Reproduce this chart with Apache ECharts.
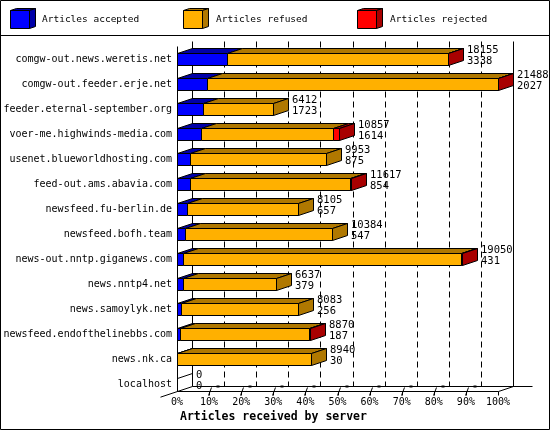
<!DOCTYPE html>
<html>
<head>
<meta charset="utf-8">
<script src="https://cdn.jsdelivr.net/npm/echarts@6/dist/echarts.min.js"></script>
<style>
  html, body { margin: 0; padding: 0; background: #fff; }
  #chart { width: 550px; height: 430px; }
</style>
</head>
<body>
<div id="chart"></div>
<script>
const categories = [
  'comgw-out.news.weretis.net',
  'comgw-out.feeder.erje.net',
  'feeder.eternal-september.org',
  'voer-me.highwinds-media.com',
  'usenet.blueworldhosting.com',
  'feed-out.ams.abavia.com',
  'newsfeed.fu-berlin.de',
  'newsfeed.bofh.team',
  'news-out.nntp.giganews.com',
  'news.nntp4.net',
  'news.samoylyk.net',
  'newsfeed.endofthelinebbs.com',
  'news.nk.ca',
  'localhost'
];
const totals   = [18155, 21488, 6412, 10857, 9953, 11617, 8105, 10384, 19050, 6637, 8083, 8870, 8940, 0];
const accepted = [3338, 2027, 1723, 1614, 875, 854, 657, 547, 431, 379, 256, 187, 30, 0];
const refused  = [14797, 19441, 4689, 8843, 9078, 10738, 7448, 9837, 18594, 6258, 7827, 8658, 8910, 0];
const rejected = [20, 20, 0, 400, 0, 25, 0, 0, 25, 0, 0, 25, 0, 0];
const percentTicks = [0, 10, 20, 30, 40, 50, 60, 70, 80, 90, 100];

const seriesNames = ['Articles accepted', 'Articles refused', 'Articles rejected'];
const FRONT = ['#0000ff', '#ffb000', '#ff0000'];
const SHADE = ['#0000a8', '#b07800', '#a80000'];
const FONT = '"DejaVu Sans Mono", monospace';
const DX = 15, DY = 5, HALF = 6;

const maxTotal = Math.max(...totals);
const pct = v => v / maxTotal * 100;
const px = v => Math.round(v) + 0.5;

// one item per visible bar segment: [startPct, endPct, row, segment, isLast]
const segmentData = [];
categories.forEach((c, r) => {
  const parts = [accepted[r], refused[r], rejected[r]];
  let lastIdx = -1;
  parts.forEach((p, i) => { if (p > 0) lastIdx = i; });
  if (lastIdx < 0) { segmentData.push([0, 0, r, -1, 1]); return; }
  let run = 0;
  parts.forEach((p, i) => {
    if (p <= 0) return;
    segmentData.push([pct(run), pct(run + p), r, i, i === lastIdx ? 1 : 0]);
    run += p;
  });
});

const labelData = categories.map((c, r) => [pct(totals[r]), r]);

function renderBar(params, api) {
  const a = api.coord([api.value(0), api.value(2)]);
  const b = api.coord([api.value(1), api.value(2)]);
  const seg = api.value(3);
  const x0 = px(a[0]), x1 = px(b[0]), c = Math.round(a[1]);
  const top = c - HALF + 0.5, bot = c + HALF + 0.5;
  const stroke = { stroke: '#000', lineWidth: 1 };
  if (seg < 0) {
    return {
      type: 'polyline',
      shape: { points: [[x0, bot], [x0, top], [x0 + DX, top - DY], [x0 + DX, bot - DY]] },
      style: { fill: null, stroke: '#000', lineWidth: 1 }
    };
  }
  const children = [
    { type: 'polygon', shape: { points: [[x0, top], [x0 + DX, top - DY], [x1 + DX, top - DY], [x1, top]] },
      style: Object.assign({ fill: SHADE[seg] }, stroke) },
    { type: 'rect', shape: { x: x0, y: top, width: x1 - x0, height: bot - top },
      style: Object.assign({ fill: FRONT[seg] }, stroke) }
  ];
  if (api.value(4) === 1) {
    children.push({ type: 'polygon',
      shape: { points: [[x1, top], [x1 + DX, top - DY], [x1 + DX, bot - DY], [x1, bot]] },
      style: Object.assign({ fill: SHADE[seg] }, stroke) });
  }
  return { type: 'group', children };
}

function renderLabels(params, api) {
  const r = api.value(1);
  const p = api.coord([api.value(0), r]);
  const x = Math.round(p[0]) + DX + 4;
  const font = '10.5px ' + FONT;
  return {
    type: 'group',
    children: [
      { type: 'text', style: { text: String(totals[r]), x, y: p[1] - 9, font, fill: '#000', textVerticalAlign: 'middle' } },
      { type: 'text', style: { text: String(accepted[r]), x, y: p[1] + 2, font, fill: '#000', textVerticalAlign: 'middle' } }
    ]
  };
}

function renderFrame(params, api) {
  const last = categories.length - 1;
  const c0 = api.coord([0, 0])[1];
  const cN = api.coord([0, last])[1];
  const xs = percentTicks.map(t => px(api.coord([t, 0])[0]));
  const frontTop = Math.round(c0 - 13) + 0.5;
  const floor = Math.round(cN + 7) + 0.5;
  const backTop = frontTop - DY, backFloor = floor - DY;
  const left = xs[0], right = xs[xs.length - 1];
  const ln = (x1, y1, x2, y2, dash) => ({
    type: 'line', shape: { x1, y1, x2, y2 },
    style: { stroke: '#000', lineWidth: 1, lineDash: dash || null }
  });
  const children = [];
  xs.slice(1, -1).forEach(x => {
    children.push(ln(x + DX, backTop, x + DX, backFloor, [6, 4]));
    children.push(ln(x - 1, floor + 4, x + 2, backFloor + 1));
    children.push({ type: 'rect', shape: { x: x + 7, y: backFloor - 1, width: 3, height: 2 }, style: { fill: '#000' } });
  });
  xs.slice(1).forEach(x => children.push(ln(x, floor, x, floor + 4)));
  children.push(
    ln(left + DX, backTop, left + DX, backFloor),
    ln(right + DX, backTop, right + DX, backFloor),
    ln(left, frontTop, left, floor),
    ln(left, floor, right, floor),
    ln(left + DX, backFloor, right + DX + 19, backFloor),
    ln(right, floor, right + DX, backFloor),
    ln(left - 17, floor + 17 * DY / DX, left + DX, backFloor)
  );
  return { type: 'group', children };
}

function legendCube(x, color, shade, label, textX) {
  const y = 10.5, w = 19, h = 18, d = 6, e = 2;
  const st = f => ({ fill: f, stroke: '#000', lineWidth: 1 });
  return [
    { type: 'polygon', shape: { points: [[x, y], [x + d, y - e], [x + w + d, y - e], [x + w, y]] }, style: st(shade) },
    { type: 'polygon', shape: { points: [[x + w, y], [x + w + d, y - e], [x + w + d, y + h - e], [x + w, y + h]] }, style: st(shade) },
    { type: 'rect', shape: { x, y, width: w, height: h }, style: st(color) },
    { type: 'text', style: { text: label, x: textX, y: 20, font: '9.5px ' + FONT, fill: '#000', textVerticalAlign: 'middle' } }
  ];
}

const chart = echarts.init(document.getElementById('chart'));

chart.setOption({
  animation: false,
  backgroundColor: '#fff',
  grid: { left: 177, right: 52, top: 46.5, bottom: 33.5 },
  xAxis: {
    type: 'value', min: 0, max: 100, interval: 10,
    axisLine: { show: false }, axisTick: { show: false }, splitLine: { show: false },
    axisLabel: { formatter: '{value}%', fontFamily: FONT, fontSize: 10, color: '#000', margin: 1 }
  },
  yAxis: {
    type: 'category', data: categories, inverse: true,
    axisLine: { show: false }, axisTick: { show: false }, splitLine: { show: false },
    axisLabel: { fontFamily: FONT, fontSize: 10, color: '#000', margin: 5 }
  },
  graphic: [
    { type: 'rect', shape: { x: 0.5, y: 0.5, width: 549, height: 429 }, style: { fill: null, stroke: '#000', lineWidth: 1 } },
    { type: 'line', shape: { x1: 0, y1: 35.5, x2: 550, y2: 35.5 }, style: { stroke: '#000', lineWidth: 1 } },
    ...legendCube(10.5, FRONT[0], SHADE[0], seriesNames[0], 42),
    ...legendCube(183.5, FRONT[1], SHADE[1], seriesNames[1], 216),
    ...legendCube(357.5, FRONT[2], SHADE[2], seriesNames[2], 390),
    { type: 'text', style: { text: 'Articles received by server', x: 180, y: 417, font: 'bold 11.5px ' + FONT, fill: '#000', textVerticalAlign: 'middle' } }
  ],
  series: [
    { type: 'custom', name: 'frame', z: 1, clip: false, silent: true,
      data: [[0, 0]], encode: { x: 0, y: 1 }, renderItem: renderFrame },
    { type: 'custom', name: 'bars', z: 2, clip: false,
      data: segmentData, encode: { x: [0, 1], y: 2 }, renderItem: renderBar },
    { type: 'custom', name: 'labels', z: 3, clip: false, silent: true,
      data: labelData, encode: { x: 0, y: 1 }, renderItem: renderLabels }
  ]
});
</script>
</body>
</html>
